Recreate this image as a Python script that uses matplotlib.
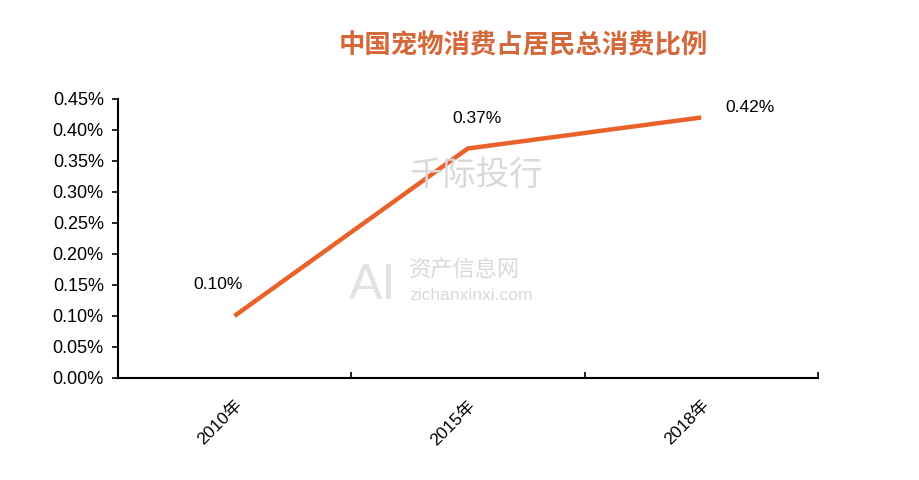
import matplotlib
matplotlib.use("Agg")
import matplotlib.pyplot as plt
from matplotlib.ticker import FuncFormatter, FixedLocator

plt.rcParams['font.family'] = ['Liberation Sans', 'Noto Sans CJK SC', 'DejaVu Sans']

years = ["2010年", "2015年", "2018年"]
share = [0.10, 0.37, 0.42]
labels = ["0.10%", "0.37%", "0.42%"]
title = "中国宠物消费占居民总消费比例"

fig = plt.figure(figsize=(9.2, 4.8), dpi=100)
ax = fig.add_axes([0.128, 0.2125, 0.761, 0.5815])

x = list(range(len(years)))
ax.plot(x, share, color="#E8622A", linewidth=3.2, solid_capstyle="butt", zorder=3)

# data labels
offsets = [(-0.07, 0.05), (0.04, 0.048), (0.21, 0.016)]
for xi, yi, lab, (dx, dy) in zip(x, share, labels, offsets):
    ax.text(xi + dx, yi + dy, lab, ha="center", va="center", fontsize=12.5, color="black")

ax.set_xlim(-0.5, 2.5)
ax.set_ylim(0, 0.45)
ax.yaxis.set_major_locator(FixedLocator([i * 0.05 for i in range(10)]))
ax.yaxis.set_major_formatter(FuncFormatter(lambda v, p: f"{v:.2f}%"))
ax.tick_params(axis="y", direction="out", length=4, width=1.2, labelsize=13, pad=6)

ax.set_xticks(x)
ax.set_xticklabels(years, rotation=45, ha="right", va="top", rotation_mode="anchor", fontsize=12.5)
ax.tick_params(axis="x", length=0, pad=14)
ax.set_xticks([0.5, 1.5, 2.5], minor=True)
ax.tick_params(axis="x", which="minor", direction="in", length=4, width=1.2)

for s in ["top", "right"]:
    ax.spines[s].set_visible(False)
for s in ["left", "bottom"]:
    ax.spines[s].set_linewidth(1.5)

fig.text(0.569, 0.905, title, ha="center", va="center", fontsize=19, fontweight="bold",
         color="#D4683A", family=["Noto Sans CJK SC"])

# faint watermarks
fig.text(0.445, 0.635, "千际投行", fontsize=24, color="#d9d9d9", family=["Noto Sans CJK SC"],
         ha="left", va="center", zorder=0)
fig.text(0.445, 0.44, "资产信息网", fontsize=16, color="#d9d9d9", family=["Noto Sans CJK SC"],
         ha="left", va="center", zorder=0)
fig.text(0.445, 0.385, "zichanxinxi.com", fontsize=12.5, color="#d9d9d9", ha="left", va="center", zorder=0)
fig.text(0.405, 0.405, "AI", fontsize=36, color="#e3e3e3", ha="center", va="center", zorder=0)

fig.savefig("out.png", dpi=100)
